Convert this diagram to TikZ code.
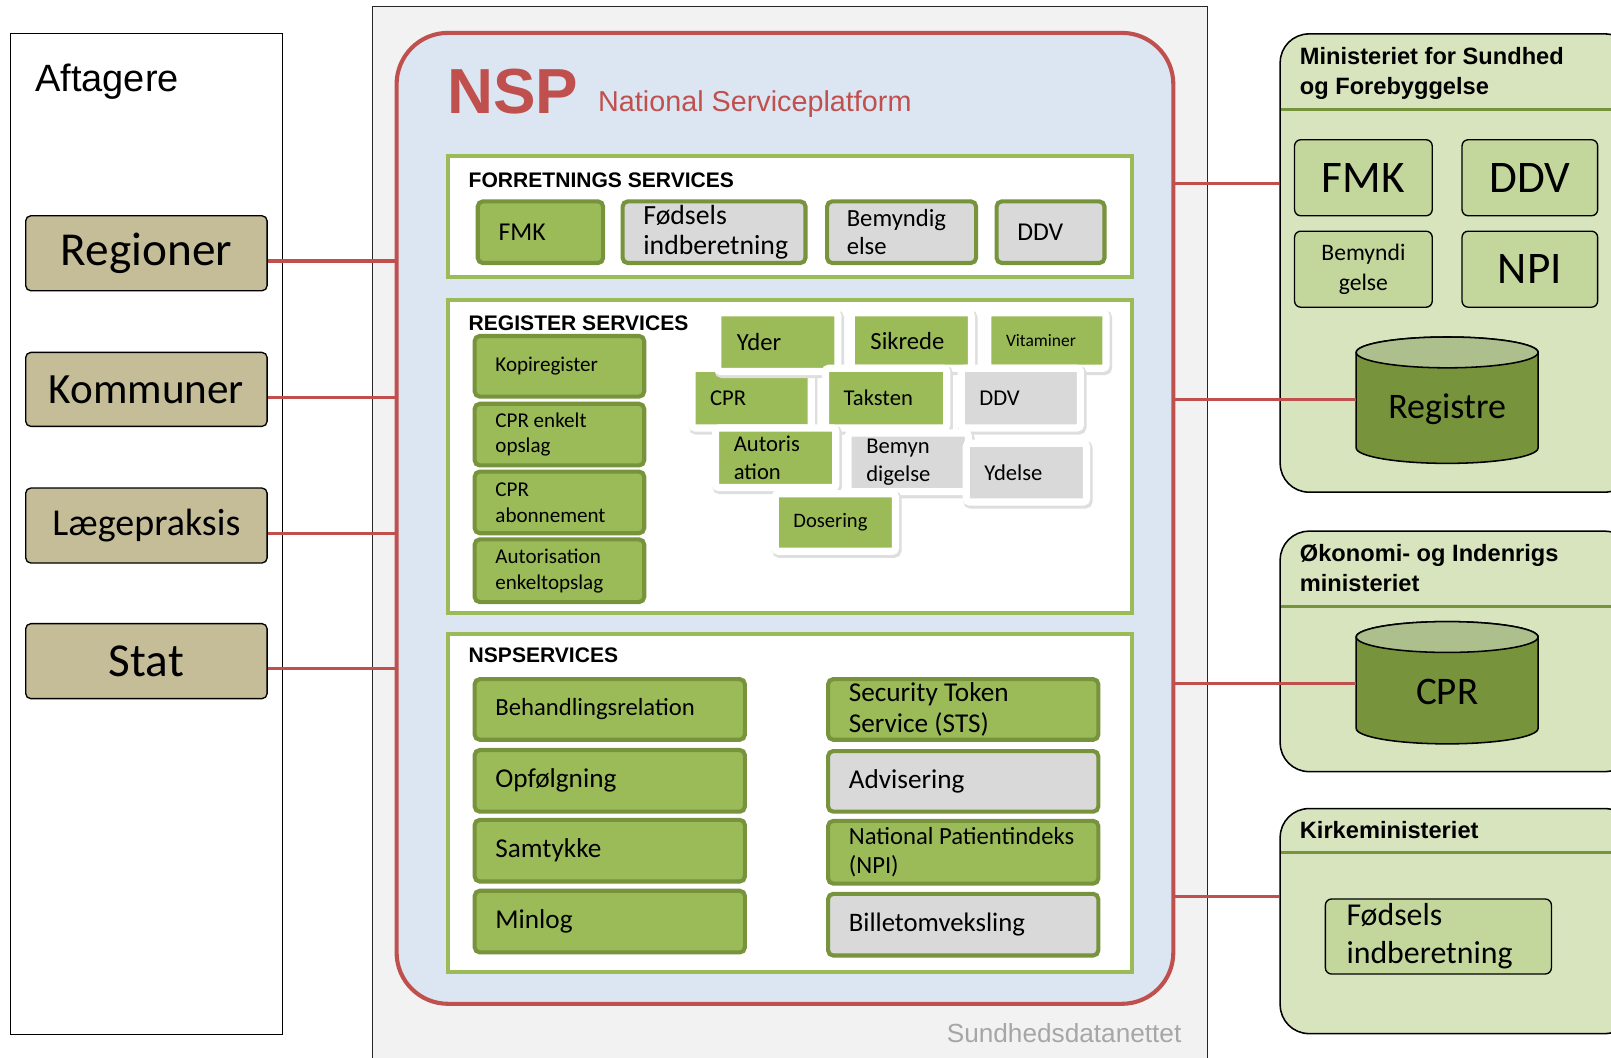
\documentclass[tikz,border=0pt]{standalone}
\usepackage{fontspec}
\setmainfont{Carlito}
\newfontfamily\arialf{Liberation Sans}
\usetikzlibrary{shadows}
\definecolor{tanc}{HTML}{C4BD97}
\definecolor{grayb}{HTML}{F2F2F2}
\definecolor{nspf}{HTML}{DCE6F2}
\definecolor{redc}{HTML}{C0504D}
\definecolor{ming}{HTML}{9BBB59}
\definecolor{dkg}{HTML}{77933C}
\definecolor{greyc}{HTML}{D9D9D9}
\definecolor{ltg}{HTML}{D7E4BD}
\definecolor{medg}{HTML}{C3D69B}
\definecolor{cyltop}{HTML}{ADBF8C}
\definecolor{sdnc}{HTML}{A6A6A6}
\newcommand\fsz[2]{\fontsize{#1pt}{#2pt}\selectfont}
% name, x1, y1, x2, y2, style, pad, font, text
\newcommand\mkbox[9]{%
  \pgfmathsetmacro\mbw{#4-#2}\pgfmathsetmacro\mbh{#5-#3}%
  \pgfmathsetmacro\mbx{(#2+#4)/2}\pgfmathsetmacro\mby{(#3+#5)/2}%
  \node[#6, minimum width=\mbw pt, minimum height=\mbh pt, inner sep=0pt] (#1) at (\mbx,\mby) {};%
  \node[txt, anchor=west, font=\fsz#8] (#1-t) at ([xshift=#7pt]#1.west) {#9};}
% name, x1, y1, x2, y2, style, font, text  (centred text)
\newcommand\mkboxc[8]{%
  \pgfmathsetmacro\mbw{#4-#2}\pgfmathsetmacro\mbh{#5-#3}%
  \pgfmathsetmacro\mbx{(#2+#4)/2}\pgfmathsetmacro\mby{(#3+#5)/2}%
  \node[#6, minimum width=\mbw pt, minimum height=\mbh pt, inner sep=0pt, align=center, font=\fsz#7] (#1) at (\mbx,\mby) {#8};}
\begin{document}
\begin{tikzpicture}[x=1pt,y=-1pt,
  txt/.style={inner sep=0pt, align=left, text=black},
  lbox/.style={draw=black, line width=1.3pt, fill=tanc, rounded corners=5pt},
  sec/.style={draw=ming, line width=4pt, fill=white},
  gbox/.style={draw=dkg, line width=4pt, fill=ming, rounded corners=5pt},
  ybox/.style={draw=dkg, line width=4pt, fill=greyc, rounded corners=5pt},
  clbase/.style={draw=white, line width=7pt, rounded corners=3pt,
     preaction={draw=black!13, line width=9pt, transform canvas={xshift=1.5pt, yshift=-2pt}}},
  clg/.style={clbase, fill=ming},
  cly/.style={clbase, fill=greyc},
  rbox/.style={draw=black, line width=1.5pt, fill=ltg, rounded corners=28pt},
  ibox/.style={draw=black, line width=1.3pt, fill=medg, rounded corners=6pt},
  cylb/.style={draw=black, line width=1.5pt, fill=dkg},
  conn/.style={draw=redc, line width=3pt},
  hdr/.style={font=\arialf\bfseries\fsz{20.5}{24}, inner sep=0pt, anchor=west},
  mhdr/.style={font=\arialf\bfseries\fsz{23}{29}, inner sep=0pt, anchor=west, align=left},
  divl/.style={draw=dkg, line width=3pt},
]
\useasboundingbox (0,0) rectangle (1568,1029);
\fill[white] (0,0) rectangle (1568,1029);
\clip (0,0) rectangle (1568,1029);

% ---------- Aftagere ----------
\node[draw=black, line width=1pt, fill=white, minimum width=265pt, minimum height=974pt, inner sep=0pt] (aft) at (142.5,520) {};
\node[anchor=base west, inner sep=0pt, font=\arialf\fsz{37}{44}] (aftt) at (34,89) {Aftagere};
\mkboxc{regi}{25}{210}{260}{283}{lbox}{{46}{52}}{Regioner}
\mkboxc{komm}{25}{343}{260}{415}{lbox}{{42}{48}}{Kommuner}
\mkboxc{laeg}{25}{475}{260}{548}{lbox}{{37}{44}}{Lægepraksis}
\mkboxc{stat}{25}{607}{260}{680}{lbox}{{46}{52}}{Stat}

% ---------- Sundhedsdatanettet ----------
\node[draw=black!85, line width=1pt, fill=grayb, minimum width=812pt, minimum height=1040pt, inner sep=0pt] (sdn) at (769,526) {};
\node[anchor=base east, inner sep=0pt, text=sdnc, font=\arialf\fsz{25.5}{30}] (sdnt) at (1150,1015) {Sundhedsdatanettet};

% ---------- NSP ----------
\node[draw=redc, line width=4pt, fill=nspf, rounded corners=50pt, minimum width=756pt, minimum height=945pt, inner sep=0pt] (nsp) at (764,504.5) {};
\node[anchor=base west, inner sep=0pt, text=redc, font=\arialf\bfseries\fsz{62}{70}] (nspt) at (435,110) {NSP};
\node[anchor=base west, inner sep=0pt, text=redc, font=\arialf\fsz{28}{32}] (nspst) at (582,109) {National Serviceplatform};

% ---------- Forretnings services ----------
\node[sec, minimum width=666pt, minimum height=118pt, inner sep=0pt] (forr) at (769,211) {};
\node[hdr] (forrt) at (456,175) {FORRETNINGS SERVICES};
\mkbox{ffmk}{465}{196}{587}{256}{gbox}{22}{{25}{30}}{FMK}
\mkbox{ffod}{606}{196}{784}{256}{ybox}{22}{{27}{30}}{Fødsels\\indberetning}
\mkbox{fbem}{805}{196}{950}{256}{ybox}{21}{{24}{27}}{Bemyndig\\else}
\mkbox{fddv}{970}{196}{1075}{256}{ybox}{22}{{25}{30}}{DDV}

% ---------- Register services ----------
\node[sec, minimum width=666pt, minimum height=305pt, inner sep=0pt] (regs) at (769,444.5) {};
\node[hdr] (regst) at (456,315) {REGISTER SERVICES};
\mkbox{rkop}{462}{327}{627}{386}{gbox}{22}{{20.5}{25}}{Kopiregister}
\mkbox{rcpe}{462}{393}{627}{453}{gbox}{22}{{20.5}{25}}{CPR enkelt\\opslag}
\mkbox{rcpa}{462}{459}{627}{519}{gbox}{22}{{20.5}{25}}{CPR\\abonnement}
\mkbox{raut}{462}{525}{627}{586}{gbox}{22}{{20.5}{25}}{Autorisation\\enkeltopslag}
% cluster
\mkbox{csik}{828.5}{304.5}{945.5}{358.5}{clg}{22}{{24}{28}}{Sikrede}
\mkbox{cvit}{961.5}{304.5}{1076.5}{358.5}{clg}{21}{{17}{20}}{Vitaminer}
\mkbox{ccpr}{673.5}{358.5}{789.5}{416.5}{clg}{21}{{22}{26}}{CPR}
\mkbox{cyde}{698.5}{304.5}{815.5}{361.5}{clg}{22}{{24}{28}}{Yder}
\mkbox{ctak}{803.5}{358.5}{921.5}{416.5}{clg}{21}{{22}{26}}{Taksten}
\mkbox{cddv}{935.5}{358.5}{1051.5}{416.5}{cly}{21}{{22}{26}}{DDV}
\mkbox{caut}{696.5}{416.5}{813.5}{474.5}{clg}{21}{{22}{27.5}}{Autoris\\ation}
\mkbox{cbem}{825.5}{421.5}{942.5}{478.5}{cly}{21}{{22}{27.5}}{Bemyn\\digelse}
\mkbox{cyds}{940.5}{431.5}{1057.5}{488.5}{cly}{21}{{22}{26}}{Ydelse}
\mkbox{cdos}{754.5}{480.5}{871.5}{536.5}{clg}{21}{{20}{24}}{Dosering}

% ---------- NSP services ----------
\node[sec, minimum width=666pt, minimum height=329pt, inner sep=0pt] (nsps) at (769,781.5) {};
\node[hdr] (nspst2) at (456,638) {NSPSERVICES};
\mkbox{nbeh}{462}{661}{725}{720}{gbox}{22}{{24}{28}}{Behandlingsrelation}
\mkbox{nopf}{462}{730}{725}{790}{gbox}{22}{{26.5}{31}}{Opfølgning}
\mkbox{nsam}{462}{798}{725}{858}{gbox}{22}{{26.5}{31}}{Samtykke}
\mkbox{nmin}{462}{867}{725}{927}{gbox}{22}{{26.5}{31}}{Minlog}
\mkbox{nsts}{806}{661}{1069}{720}{gbox}{22}{{26.5}{31}}{Security Token\\Service (STS)}
\mkbox{nadv}{806}{731}{1069}{790}{ybox}{22}{{26.5}{31}}{Advisering}
\mkbox{nnpi}{806}{799}{1069}{860}{gbox}{22}{{24}{28}}{National Patientindeks\\(NPI)}
\mkbox{nbil}{806}{870}{1069}{930}{ybox}{22}{{26}{31}}{Billetomveksling}

% ---------- Ministeriet for Sundhed ----------
\node[rbox, minimum width=344pt, minimum height=446pt, inner sep=0pt] (mins) at (1418,256) {};
\draw[divl] (1247,107) -- (1600,107);
\node[mhdr] (minst) at (1265,71.5) {Ministeriet for Sundhed\\og Forebyggelse};
\mkboxc{mfmk}{1260}{136}{1394}{210}{ibox}{{44}{50}}{FMK}
\mkboxc{mddv}{1423}{136}{1555}{210}{ibox}{{44}{50}}{DDV}
\mkboxc{mbem}{1260}{225}{1394}{299}{ibox}{{23}{29}}{Bemyndi\\gelse}
\mkboxc{mnpi}{1423}{225}{1555}{299}{ibox}{{44}{50}}{NPI}
\draw[cylb] (1320,343) -- (1320,436) arc[start angle=180, end angle=0, x radius=88.5, y radius=15] -- (1497,343) arc[start angle=0, end angle=-180, x radius=88.5, y radius=15] -- cycle;
\draw[draw=black, line width=1.5pt, fill=cyltop] (1408.5,343) ellipse [x radius=88.5, y radius=15];
\node[inner sep=0pt, font=\fsz{35}{40}] (regtxt) at (1408.5,398) {Registre};
\coordinate (regcyl) at (1320,389);

% ---------- Økonomi- og Indenrigs ----------
\node[rbox, minimum width=344pt, minimum height=234pt, inner sep=0pt] (oim) at (1418,634) {};
\draw[divl] (1247,590) -- (1600,590);
\node[mhdr] (oimt) at (1265,553) {Økonomi- og Indenrigs\\ministeriet};
\draw[cylb] (1320,620) -- (1320,709) arc[start angle=180, end angle=0, x radius=88.5, y radius=15] -- (1497,620) arc[start angle=0, end angle=-180, x radius=88.5, y radius=15] -- cycle;
\draw[draw=black, line width=1.5pt, fill=cyltop] (1408.5,620) ellipse [x radius=88.5, y radius=15];
\node[inner sep=0pt, font=\fsz{38}{44}] (cprtxt) at (1408.5,673) {CPR};
\coordinate (cprcyl) at (1320,665);

% ---------- Kirkeministeriet ----------
\node[rbox, minimum width=344pt, minimum height=219pt, inner sep=0pt] (kirk) at (1418,896.5) {};
\draw[divl] (1247,830) -- (1600,830);
\node[mhdr] (kirkt) at (1265,808) {Kirkeministeriet};
\mkbox{kfod}{1290}{875}{1510}{948}{ibox}{21}{{31}{37}}{Fødsels\\indberetning}

% ---------- connectors ----------
\coordinate (l1) at ([yshift=-7.5pt]regi.east);
\coordinate (l2) at ([yshift=-7.5pt]komm.east);
\coordinate (l3) at ([yshift=-7.5pt]laeg.east);
\coordinate (l4) at ([yshift=-7.5pt]stat.east);
\draw[conn] (l1) -- (nsp.west |- l1);
\draw[conn] (l2) -- (nsp.west |- l2);
\draw[conn] (l3) -- (nsp.west |- l3);
\draw[conn] (l4) -- (nsp.west |- l4);
\coordinate (r1) at (1142,179);
\draw[conn] (nsp.east |- r1) -- (mins.west |- r1);
\draw[conn] (nsp.east |- regcyl) -- (regcyl);
\draw[conn] (nsp.east |- cprcyl) -- (cprcyl);
\coordinate (r4) at (1142,873);
\draw[conn] (nsp.east |- r4) -- (kirk.west |- r4);
\end{tikzpicture}
\end{document}
